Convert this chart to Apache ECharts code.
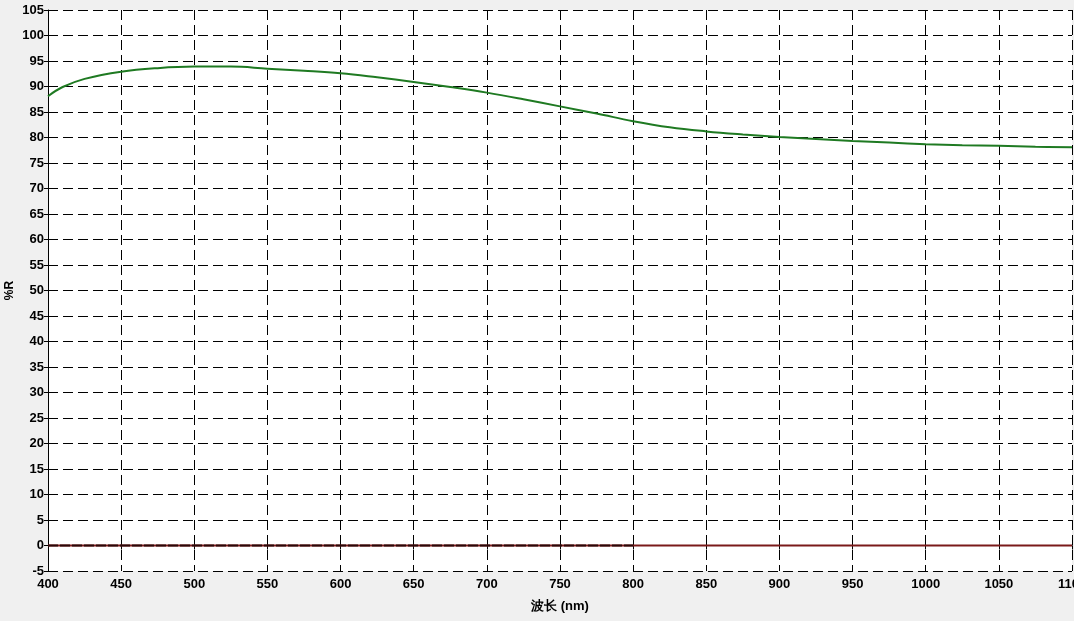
<!DOCTYPE html>
<html>
<head>
<meta charset="utf-8">
<script src="https://cdn.jsdelivr.net/npm/echarts@6/dist/echarts.min.js"></script>
<style>
html,body{margin:0;padding:0;background:#f0f0f0;}
#c{width:1074px;height:621px;}
</style>
</head>
<body>
<div id="c"></div>
<script>
var wavelengths = [400,410,425,450,475,500,525,550,575,600,625,650,675,700,725,750,775,800,825,850,875,900,925,950,975,1000,1025,1050,1075,1100];
var reflectance = [88.1,89.9,91.5,92.9,93.6,93.9,93.9,93.5,93.1,92.6,91.8,90.9,89.9,88.8,87.5,86.1,84.7,83.2,82.0,81.2,80.6,80.1,79.7,79.3,79.0,78.7,78.5,78.4,78.2,78.1];
var zeroX = [400,1100];
var zeroY = [0,0];
var baseX = [400,800];
var baseY = [0,0];
var xName = '波长 (nm)';
var yName = '%R';

function pairs(xs, ys){ return xs.map(function(x,i){ return [x, ys[i]]; }); }

var chart = echarts.init(document.getElementById('c'));
var lbl = {color:'#000', fontWeight:'bold', fontSize:13, fontFamily:'Liberation Sans, Arial, sans-serif'};
chart.setOption({
  backgroundColor:'#f0f0f0',
  animation:false,
  grid:{left:48,right:2,top:10,bottom:50,show:true,backgroundColor:'#fff',borderWidth:0,containLabel:false,outerBoundsMode:'none'},
  xAxis:{
    type:'value',min:400,max:1100,interval:50,
    name:xName,nameLocation:'middle',nameGap:29,
    nameTextStyle:lbl,
    axisLine:{show:true,lineStyle:{color:'#000',width:1}},
    axisTick:{show:true,length:4,lineStyle:{color:'#000'}},
    axisLabel:Object.assign({margin:7,formatter:function(v){return String(v);}},lbl),
    splitLine:{show:true,lineStyle:{color:'#000',width:1,type:[10,5]}}
  },
  yAxis:{
    type:'value',min:-5,max:105,interval:5,
    name:yName,nameLocation:'middle',nameGap:32,nameMoveOverlap:false,
    nameTextStyle:Object.assign({},lbl,{fontSize:12}),
    axisLine:{show:true,lineStyle:{color:'#000',width:1}},
    axisTick:{show:true,length:4,lineStyle:{color:'#000'}},
    axisLabel:Object.assign({margin:4,formatter:function(v){return String(v);}},lbl),
    splitLine:{show:true,lineStyle:{color:'#000',width:1,type:[10,5]}}
  },
  series:[
    {type:'line',data:pairs(zeroX,zeroY),symbol:'none',lineStyle:{color:'#7a1a1a',width:2},z:3},
    {type:'line',data:pairs(baseX,baseY),symbol:'none',lineStyle:{color:'#2a0808',width:2,type:[10,2]},z:4},
    {type:'line',data:pairs(wavelengths,reflectance),symbol:'none',smooth:0.4,lineStyle:{color:'#1f7a22',width:2},z:5}
  ]
});
</script>
</body>
</html>
